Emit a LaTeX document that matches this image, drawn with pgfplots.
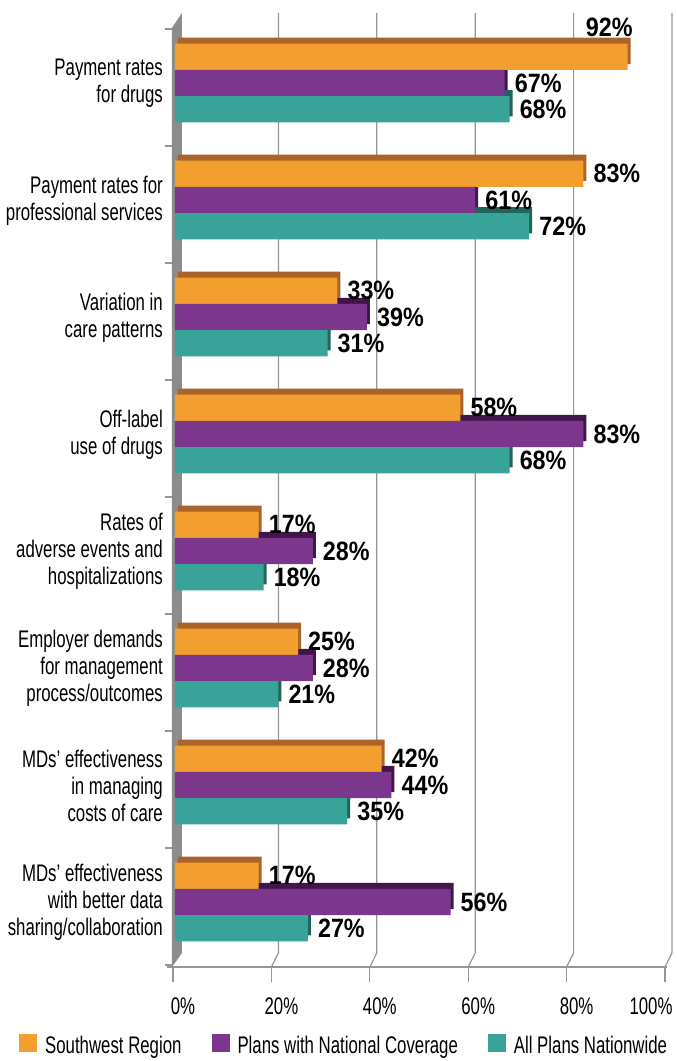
\documentclass[border=0pt]{standalone}
\usepackage{fontspec}
\setmainfont{Liberation Sans}[FakeStretch=0.70]
\newfontfamily\valuefont{Liberation Sans}[FakeStretch=0.88]
\usepackage{pgfplots}
\usepackage{pgfplotstable}
\pgfplotsset{compat=1.18}

\definecolor{swo}{RGB}{243,159,48}
\definecolor{swod}{RGB}{170,100,40}
\definecolor{nat}{RGB}{122,55,140}
\definecolor{natd}{RGB}{66,22,76}
\definecolor{allp}{RGB}{57,162,153}
\definecolor{allpd}{RGB}{32,100,92}
\definecolor{gridg}{RGB}{150,150,150}
\definecolor{wallg}{RGB}{140,140,140}

\pgfplotsset{
  sqlegend/.style={legend image code/.code={\fill[##1] (0bp,-7bp) rectangle (18bp,11bp);}},
  vlabel/.style={nodes near coords={\pgfmathprintnumber[assume math mode=true]{\pgfplotspointmeta}\%},
    point meta=x,
    every node near coord/.append style={font=\fontsize{26.5bp}{28bp}\selectfont\valuefont\bfseries,
      anchor=west, inner sep=0pt, text=black}},
}

% y: 7 = top category, 0 = bottom; dx/dy = label offsets for the orange series
\pgfplotstableread{
y sw nat all dx dy
7 92 67 68 -42 29
6 83 61 72 10 0
5 33 39 31 10 0
4 58 83 68 10 0
3 17 28 18 10 0
2 25 28 21 10 0
1 42 44 35 10 0
0 17 56 27 10 0
}\data

\begin{document}
\begin{tikzpicture}[x=1bp,y=1bp]
\path[use as bounding box] (-175,-96) rectangle (502,965);

% back grid lines with 3D floor slant
\foreach \t in {20,40,60,80,100}{
  \draw[gridg, line width=1.2bp] ({4.92*\t+5},952) -- ({4.92*\t+5},12) -- ({4.92*\t-2},-2);
}
\foreach \t in {0,20,40,60,80,100}{
  \draw[gridg, line width=1.2bp] ({4.92*\t-2},-2) -- ({4.92*\t-2},-17);
}
\draw[gridg, line width=1.2bp] (-8,-2) -- (492,-2);
% left wall
\fill[wallg] (-3,-2) -- (-3,937) -- (7,952) -- (7,12) -- cycle;
\foreach \k in {0,...,8}{
  \draw[gridg, line width=1.2bp] (-10,{936-117*\k}) -- (-3,{936-117*\k});
}

\begin{axis}[
  at={(0,0)}, anchor=south west,
  scale only axis, width=492bp, height=936bp,
  xmin=0, xmax=100, ymin=-0.5, ymax=7.5,
  xbar, bar width=26.3bp,
  clip=false,
  axis line style={draw=none},
  major tick length=0pt,
  xtick={0,20,40,60,80,100},
  xticklabels={0\%,20\%,40\%,60\%,80\%,\hspace*{-48bp}100\%},
  xticklabel style={font=\fontsize{24bp}{27bp}\selectfont, anchor=north, inner sep=0pt, xshift=8bp, yshift=-33bp},
  ytick={0,...,7},
  yticklabels={
    MDs’ effectiveness\\with better data\\sharing/collaboration,
    MDs’ effectiveness\\in managing\\costs of care,
    Employer demands\\for management\\process/outcomes,
    Rates of\\adverse events and\\hospitalizations,
    Off-label\\use of drugs,
    Variation in\\care patterns,
    Payment rates for\\professional services,
    Payment rates\\for drugs},
  yticklabel style={font=\fontsize{24bp}{27bp}\selectfont, align=right, anchor=east, inner sep=0pt, xshift=-12bp, yshift=4bp},
  legend columns=3,
  legend style={at={(-0.3171,-0.0850)}, anchor=west, draw=none, fill=none, inner sep=0pt,
    font=\fontsize{24bp}{27bp}\selectfont,
    nodes={inner sep=0pt},
    /tikz/every odd column/.append style={column sep=8bp},
    /tikz/every even column/.append style={column sep=30bp}},
]
% depth faces (drawn first, behind the fronts)
\addplot[fill=allpd, draw=none, bar shift=-15.8bp, xshift=3bp, forget plot] table[x=all,y=y]{\data};
\addplot[fill=natd, draw=none, bar shift=10.5bp, xshift=3bp, forget plot] table[x=nat,y=y]{\data};
\addplot[fill=swod, draw=none, bar shift=36.8bp, xshift=3bp, forget plot] table[x=sw,y=y]{\data};
% front faces
\addplot[fill=swo, draw=none, bar shift=30.8bp, sqlegend, vlabel,
  visualization depends on={\thisrow{dx} \as \ldx},
  visualization depends on={\thisrow{dy} \as \ldy},
  every node near coord/.append style={xshift=\ldx*1bp, yshift=\ldy*1bp}]
  table[x=sw,y=y]{\data};
\addplot[fill=nat, draw=none, bar shift=4.5bp, sqlegend, vlabel,
  every node near coord/.append style={xshift=10bp}]
  table[x=nat,y=y]{\data};
\addplot[fill=allp, draw=none, bar shift=-21.8bp, sqlegend, vlabel,
  every node near coord/.append style={xshift=10bp}]
  table[x=all,y=y]{\data};
\legend{Southwest Region, Plans with National Coverage, All Plans Nationwide}
\end{axis}
\end{tikzpicture}
\end{document}
